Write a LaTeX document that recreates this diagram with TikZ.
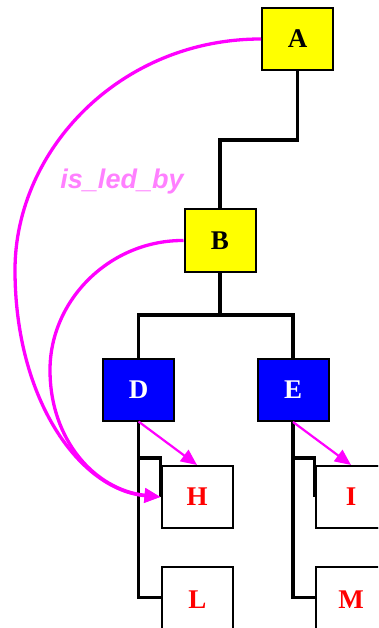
\documentclass[tikz,border=0pt]{standalone}
\usepackage{fontspec}
\setmainfont{Liberation Serif}
\newfontfamily\labelfont{Liberation Sans}
\usetikzlibrary{arrows.meta,calc}
\definecolor{myyellow}{HTML}{FFFF00}
\definecolor{myblue}{HTML}{0000FF}
\definecolor{mymag}{HTML}{FF00FF}
\definecolor{mylabel}{HTML}{FF80FF}
\definecolor{myred}{HTML}{FF0000}
\tikzset{
  box/.style={draw=black, line width=2pt, minimum width=71pt, minimum height=62pt, inner sep=0pt, font=\fontsize{27}{27}\selectfont\bfseries},
  ybox/.style={box, fill=myyellow, text=black},
  bbox/.style={box, fill=myblue, text=white},
  wbox/.style={box, fill=white, text=myred},
  tree/.style={draw=black, line width=3.3pt},
  led/.style={draw=mymag, line width=3.3pt, -{Triangle[length=16pt,width=14pt]}},
  sub/.style={draw=mymag, line width=2.2pt, -{Triangle[length=16pt,width=14pt]}},
}
\begin{document}
\begin{tikzpicture}[x=1pt,y=-1pt]
\useasboundingbox (0,0) rectangle (378,628);
\clip (0,0) rectangle (378,628);
% nodes
\node[ybox] (A) at (297.5,39) {A};
\node[ybox] (B) at (220,240.5) {B};
\node[bbox] (D) at (138.5,389.5) {D};
\node[bbox] (E) at (293,390) {E};
\node[wbox] (H) at (197,497) {H};
\node[wbox, minimum height=66pt] (L) at (197.5,600) {L};
\node[wbox] (I) at (351,497) {I};
\node[wbox, minimum height=66pt] (M) at (351,600) {M};
\coordinate (lj) at (197.5,597.5);
\coordinate (mj) at (351,597.5);
% tree connectors
\draw[tree] (A.south) -- (A.south |- 0,140) -| (B.north);
\draw[tree] (B.south) -- (B.south |- 0,315);
\draw[tree] (D.north) -- (D.north |- 0,315) -- (E.north |- 0,315) -- (E.north);
\draw[tree] (D.south) -- (D.south |- lj) -- (L.west |- lj);
\draw[tree] (D.south |- 0,458) -| (H.west);
\draw[tree] (E.south) -- (E.south |- mj) -- (M.west |- mj);
\draw[tree] (E.south |- 0,458) -| (I.west);
% redraw boxes over the lines
\node[wbox] at (H) {H};
\node[wbox] at (I) {I};
% magenta arrows
\draw[sub] (D.south) -- (H.north);
\draw[sub] (E.south) -- (I.north);
\draw[led] (A.west) .. controls (120,39) and (15,150) .. (15,270)
  .. controls (15,400) and (80,490) .. (H.west);
\draw[led] (B.west) .. controls (110,240) and (50,300) .. (50,370)
  .. controls (50,440) and (95,490) .. (H.west);
\node[text=mylabel, font=\labelfont\fontsize{27}{27}\selectfont\bfseries\itshape] (lab) at (122,182) {is\_led\_by};
\end{tikzpicture}
\end{document}
